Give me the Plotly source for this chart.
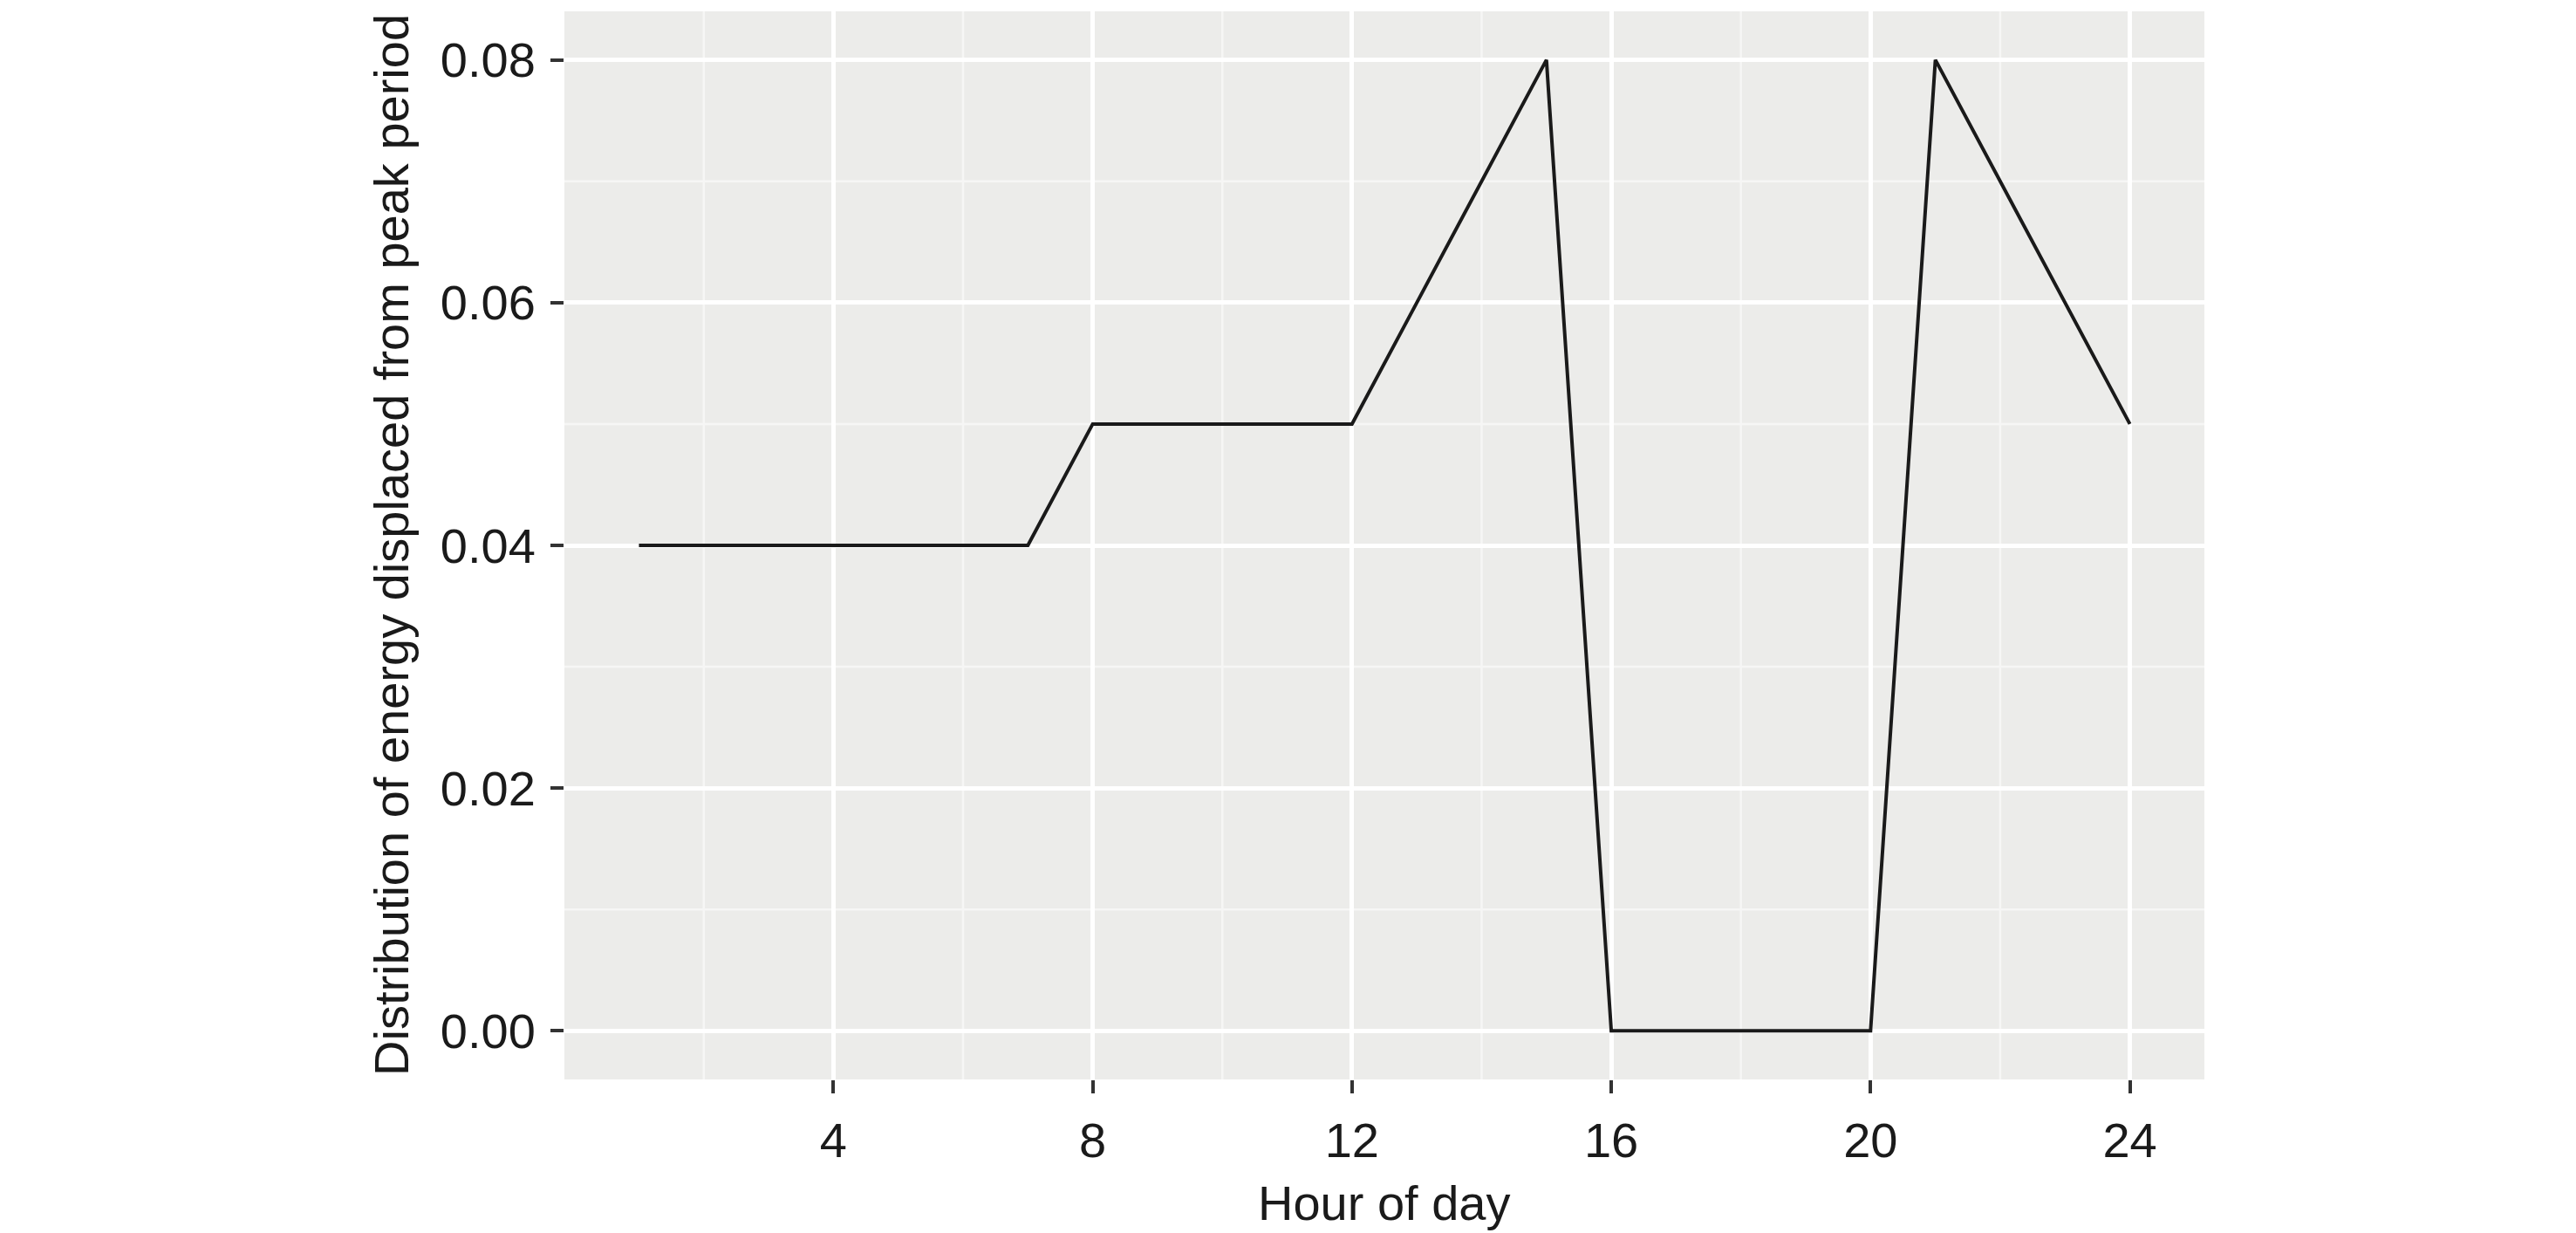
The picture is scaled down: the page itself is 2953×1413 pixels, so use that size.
import plotly.graph_objects as go

hours = list(range(1, 25))
share = [0.04, 0.04, 0.04, 0.04, 0.04, 0.04, 0.04,
         0.05, 0.05, 0.05, 0.05, 0.05,
         0.06, 0.07, 0.08,
         0.00, 0.00, 0.00, 0.00, 0.00,
         0.08, 0.07, 0.06, 0.05]
x_ticks = [4, 8, 12, 16, 20, 24]
y_ticks = [0.00, 0.02, 0.04, 0.06, 0.08]
y_tick_labels = ["0.00", "0.02", "0.04", "0.06", "0.08"]
x_minor = [2, 6, 10, 14, 18, 22]
y_minor = [0.01, 0.03, 0.05, 0.07]

W, H = 2953, 1413
L, R, T, B = 647, 2527, 13, 1237
FONT = "Liberation Sans, Arial, Helvetica, sans-serif"
BG = "#ECECEA"

x_range = [1 - 0.05 * 23, 24 + 0.05 * 23]
y_range = [-0.004, 0.084]

fig = go.Figure()

shapes = []
for xm in x_minor:
    shapes.append(dict(type="line", xref="x", yref="paper", x0=xm, x1=xm, y0=0, y1=1,
                       line=dict(color="#F6F6F5", width=2.5), layer="below"))
for ym in y_minor:
    shapes.append(dict(type="line", xref="paper", yref="y", x0=0, x1=1, y0=ym, y1=ym,
                       line=dict(color="#F6F6F5", width=2.5), layer="below"))

fig.add_trace(go.Scatter(x=hours, y=share, mode="lines",
                         line=dict(color="#1a1a1a", width=4), showlegend=False,
                         hoverinfo="x+y"))

fig.update_layout(
    width=W, height=H, autosize=False,
    margin=dict(l=L, r=W - R, t=T, b=H - B, pad=0),
    paper_bgcolor="white", plot_bgcolor=BG,
    font=dict(family=FONT, size=56, color="#1a1a1a"),
    shapes=shapes,
    showlegend=False,
)
fig.update_xaxes(range=x_range, tickmode="array", tickvals=x_ticks,
                 ticktext=[str(v) for v in x_ticks],
                 showgrid=True, gridcolor="white", gridwidth=5,
                 zeroline=False, showline=False,
                 ticks="outside", ticklen=15, tickwidth=4, tickcolor="#333333",
                 tickfont=dict(family=FONT, size=56, color="#1a1a1a"),
                 ticklabelstandoff=6)
fig.update_yaxes(range=y_range, tickmode="array", tickvals=y_ticks,
                 ticktext=y_tick_labels,
                 showgrid=True, gridcolor="white", gridwidth=5,
                 zeroline=False, showline=False,
                 ticks="outside", ticklen=15, tickwidth=4, tickcolor="#333333",
                 tickfont=dict(family=FONT, size=56, color="#1a1a1a"),
                 ticklabelstandoff=6)

fig.add_annotation(text="Hour of day", xref="paper", yref="paper",
                   x=0.5, y=(B - 1378) / (B - T), xanchor="center", yanchor="middle",
                   showarrow=False, font=dict(family=FONT, size=56, color="#1a1a1a"))
fig.add_annotation(text="Distribution of energy displaced from peak period",
                   xref="paper", yref="paper",
                   x=(448 - L) / (R - L), y=0.5, xanchor="center", yanchor="middle",
                   textangle=-90, showarrow=False,
                   font=dict(family=FONT, size=56, color="#1a1a1a"))

fig.write_html("out.html", config={"displayModeBar": False},
               post_script="document.body.style.margin='0';document.body.style.overflow='hidden';")
